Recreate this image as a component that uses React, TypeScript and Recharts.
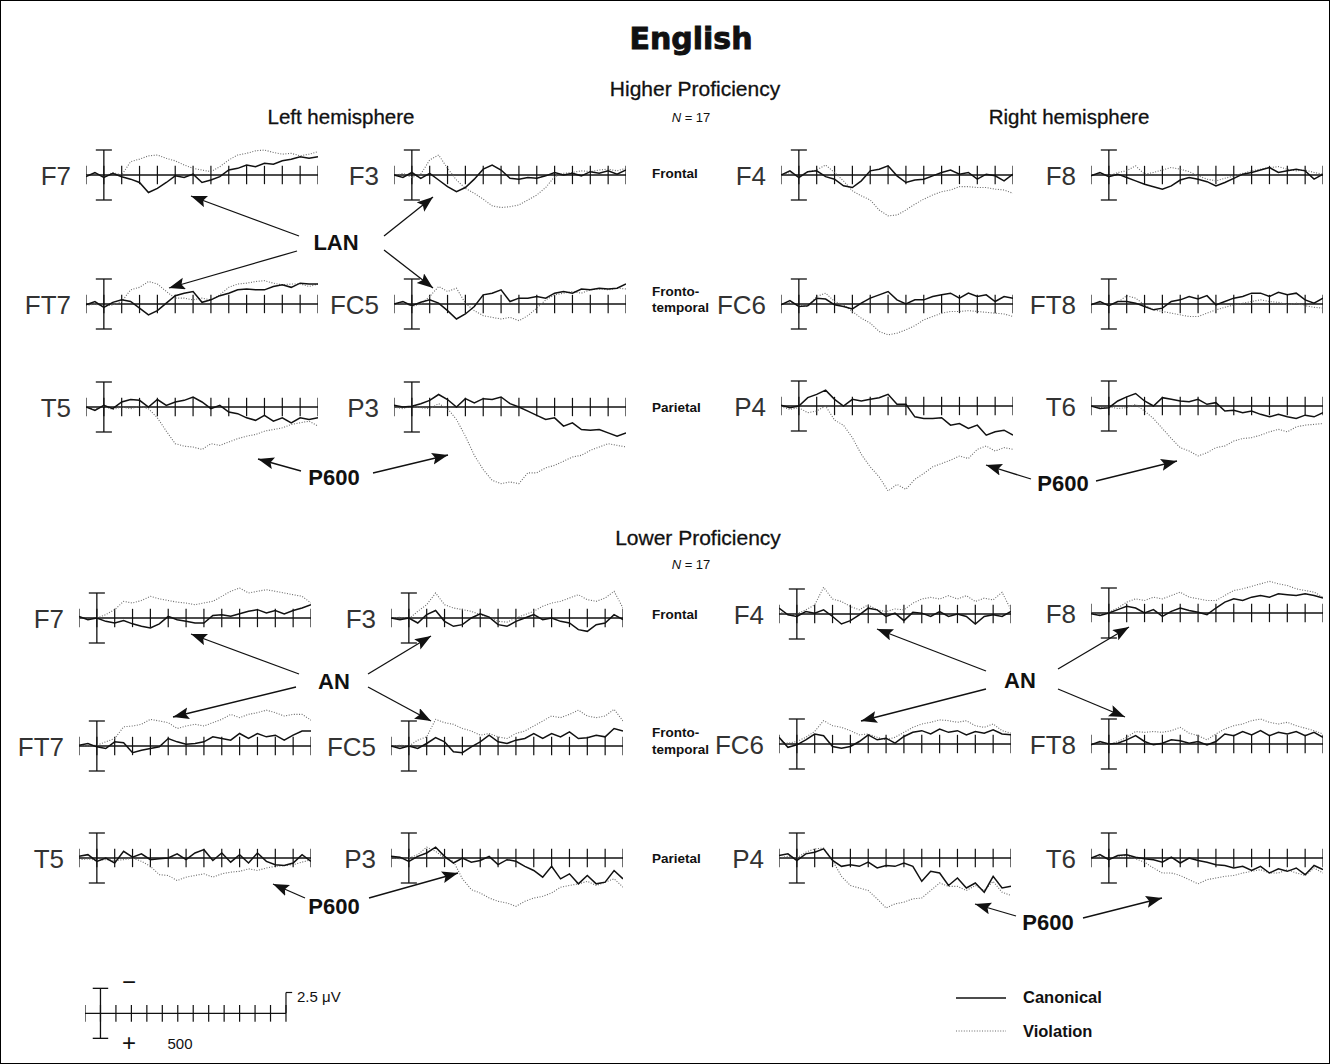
import { LineChart, Line, XAxis, YAxis, ReferenceLine } from 'recharts'

// time base, ms (one sample every 50 ms)
const TIMES = [-100, -50, 0, 50, 100, 150, 200, 250, 300, 350, 400, 450, 500, 550, 600, 650, 700, 750, 800, 850, 900, 950, 1000, 1050, 1100, 1150, 1200]
const TICKS = [-100, 0, 100, 200, 300, 400, 500, 600, 700, 800, 900, 1000, 1100, 1200]

/* ── Higher proficiency (µV, negative plotted up) ───────── */
const HI_F7_CAN = [0.2, -0.3, 0.3, -0.2, 0.2, 0.5, 0.9, 2.1, 1.6, 0.9, 0.1, 0.3, -0.1, 0.9, 0.6, 0.2, -0.6, -0.8, -1.2, -1.0, -1.4, -1.3, -1.7, -1.9, -2.2, -2.0, -2.2]
const HI_F7_VIO = [0.1, -0.2, 0.2, -0.3, 0.0, -1.6, -1.9, -2.3, -2.4, -2.0, -1.7, -1.2, -0.8, -0.6, -0.4, -1.0, -1.8, -2.4, -2.6, -2.9, -3.0, -2.7, -2.5, -2.6, -2.3, -2.5, -2.8]
const HI_F3_CAN = [0.0, 0.3, -0.3, 0.4, -0.2, 0.6, 1.4, 2.0, 1.5, 0.5, -0.7, -1.2, -0.6, 0.4, 0.5, 0.3, 0.4, 0.1, -0.3, 0.0, -0.2, 0.1, -0.4, -0.2, -0.5, -0.1, -0.6]
const HI_F3_VIO = [0.1, -0.2, 0.3, -0.1, -1.8, -2.4, -0.8, 0.6, 1.6, 2.2, 2.9, 3.7, 3.9, 3.8, 3.6, 3.0, 2.4, 1.5, 0.2, -0.2, -0.3, -0.5, -0.4, -0.6, -0.7, -0.5, -0.8]
const HI_F4_CAN = [0.0, -0.5, 0.3, -0.4, -0.5, 0.2, 0.5, 1.3, 1.5, 0.7, -0.5, -0.7, -1.1, 0.1, 0.9, 0.6, 0.5, 0.1, -0.3, -0.6, -0.1, -0.3, 0.5, -0.1, 0.1, 0.7, -0.1]
const HI_F4_VIO = [0.1, -0.3, 0.2, -0.4, -0.6, -1.2, -0.3, 0.7, 1.9, 2.5, 3.0, 4.2, 4.9, 4.8, 4.2, 3.5, 2.9, 2.4, 2.0, 1.8, 1.4, 1.4, 1.5, 1.5, 1.7, 1.8, 2.2]
const HI_F8_CAN = [0.1, -0.3, 0.2, -0.1, 0.3, 0.7, 1.1, 1.4, 1.7, 1.3, 0.6, 0.3, 0.5, 0.8, 1.3, 0.9, 0.4, -0.1, -0.3, -0.6, -0.9, -0.3, -0.5, -0.7, -0.5, 0.5, -0.1]
const HI_F8_VIO = [0.0, -0.2, 0.1, -0.3, -0.5, -1.1, -0.1, -0.3, -0.6, -0.9, -0.7, -0.4, 0.1, 0.5, 0.7, 0.4, 0.1, -0.2, -0.5, -0.7, -0.9, -1.0, -0.7, -0.5, -0.6, -0.3, -0.1]
const HI_FT7_CAN = [0.1, -0.3, 0.4, -0.2, -0.5, -0.3, 0.5, 1.3, 0.8, -0.1, -1.0, -1.3, -1.5, -0.2, -0.5, -1.0, -1.3, -1.7, -1.8, -1.7, -1.7, -2.1, -2.3, -2.0, -2.5, -2.4, -2.4]
const HI_FT7_VIO = [0.2, 0.0, 0.3, 0.1, -0.3, -1.7, -2.0, -2.7, -2.4, -1.5, -0.7, -0.7, -0.5, -0.7, -0.5, -1.1, -2.0, -2.4, -2.5, -2.7, -2.8, -2.5, -2.3, -2.4, -2.4, -2.1, -2.4]
const HI_FC5_CAN = [0.0, -0.3, 0.2, -0.2, -0.5, -0.1, 0.8, 1.8, 1.2, 0.3, -1.1, -1.3, -1.7, -0.3, -0.7, -0.7, -0.9, -0.7, -1.3, -1.5, -1.3, -1.8, -1.7, -1.9, -1.8, -1.9, -2.4]
const HI_FC5_VIO = [0.1, -0.2, 0.3, 0.0, -0.9, -2.1, -1.5, -1.9, -0.1, 0.8, 1.4, 1.6, 1.8, 1.6, 2.0, 1.4, 0.5, -0.5, -1.1, -1.3, -1.5, -1.3, -1.7, -1.8, -1.7, -1.9, -1.8]
const HI_FC6_CAN = [0.1, -0.4, 0.3, 0.2, -0.7, -0.6, 0.1, 0.3, 0.6, -0.1, -0.7, -1.1, -1.5, -0.5, 0.0, -0.5, -0.5, -0.9, -1.1, -1.3, -0.7, -1.3, -0.9, -1.1, -0.3, -0.9, -0.7]
const HI_FC6_VIO = [0.0, -0.2, 0.2, 0.3, -0.9, -1.3, -0.3, 0.1, 0.9, 1.7, 2.3, 3.3, 3.7, 3.5, 3.1, 2.6, 1.9, 1.5, 1.1, 0.9, 0.9, 0.8, 0.9, 1.0, 1.1, 1.2, 1.5]
const HI_FT8_CAN = [0.1, -0.3, 0.2, -0.3, -0.3, -0.1, 0.3, 0.7, 0.5, -0.3, -0.5, -0.9, -0.6, -1.0, 0.1, -0.3, -0.7, -0.9, -1.3, -1.3, -0.9, -1.4, -1.1, -1.3, -0.5, -0.1, -0.7]
const HI_FT8_VIO = [0.0, -0.2, 0.1, -0.2, -1.0, -0.7, 0.1, 0.7, 0.9, 1.1, 1.3, 1.5, 1.5, 1.1, 0.7, 0.4, 0.1, -0.1, -0.3, -0.5, -0.3, -0.2, 0.1, -0.1, 0.2, 0.4, 0.5]
const HI_T5_CAN = [0.0, 0.4, -0.2, 0.2, -0.6, -0.9, -0.8, 0.0, -0.9, -0.2, -0.6, -0.8, -1.2, -0.6, 0.2, -0.2, 0.6, 0.8, 1.3, 1.6, 1.0, 1.7, 1.3, 1.9, 1.3, 1.5, 1.3]
const HI_T5_VIO = [0.0, 0.3, -0.1, 0.3, 0.0, 0.2, -0.1, 0.2, 1.3, 2.9, 4.4, 4.7, 4.8, 5.1, 4.4, 4.6, 4.2, 3.8, 3.5, 3.3, 2.9, 2.7, 2.5, 2.1, 1.9, 1.7, 2.3]
const HI_P3_CAN = [-0.2, 0.0, -0.1, -0.4, -0.8, -1.5, -0.9, 0.0, -1.0, -0.5, -1.0, -0.9, -1.2, -0.4, 0.0, 0.5, 1.0, 1.5, 1.3, 2.3, 1.9, 2.7, 2.8, 2.7, 3.1, 3.5, 3.1]
const HI_P3_VIO = [0.0, 0.2, -0.1, 0.1, 0.2, -0.4, 0.2, 1.5, 3.5, 5.8, 7.5, 8.8, 9.2, 9.0, 9.2, 7.9, 7.9, 7.3, 7.0, 6.5, 6.0, 5.8, 5.2, 4.8, 4.4, 4.6, 4.8]
const HI_P4_CAN = [-0.1, 0.2, 0.0, -1.0, -1.4, -1.9, -0.8, 0.0, -0.8, -0.6, -0.8, -1.0, -1.4, -0.2, -0.2, 1.3, 1.5, 1.5, 1.4, 2.3, 2.1, 2.7, 2.3, 3.5, 3.1, 2.9, 3.5]
const HI_P4_VIO = [0.1, 0.4, 0.2, 0.8, 0.6, 0.0, 1.7, 2.3, 3.8, 5.8, 7.3, 8.5, 10.2, 9.4, 10.0, 8.8, 8.1, 7.3, 6.9, 6.5, 6.0, 6.3, 5.2, 4.8, 5.4, 5.0, 5.2]
const HI_T6_CAN = [0.0, 0.3, 0.2, -0.6, -1.1, -1.5, -0.6, 0.0, -1.0, -0.8, -0.6, -0.5, -0.8, -0.2, -0.4, 0.6, 0.5, 0.8, 0.6, 1.0, 1.3, 1.0, 1.3, 1.5, 1.1, 1.3, 0.8]
const HI_T6_VIO = [0.0, 0.2, 0.1, 0.3, 0.2, -0.2, 0.6, 1.5, 2.7, 3.9, 5.0, 5.4, 6.0, 5.6, 5.0, 4.8, 4.2, 3.9, 3.8, 3.5, 3.1, 2.8, 3.1, 2.5, 2.3, 2.2, 2.1]

/* ── Lower proficiency ───────────────────────────────────── */
const LO_F7_CAN = [-0.2, 0.2, 0.0, 0.4, 0.6, 0.3, 0.7, 1.0, 1.2, 0.7, -0.2, 0.2, 0.4, 0.6, 0.6, -0.3, -0.4, -0.2, -0.5, -0.8, -1.0, -0.6, -0.9, -0.5, -0.9, -1.2, -1.6]
const LO_F7_VIO = [0.0, 0.1, 0.0, -0.4, -1.0, -2.0, -1.8, -2.1, -2.6, -2.3, -2.1, -1.9, -1.8, -1.6, -1.8, -2.0, -2.6, -3.2, -3.6, -3.0, -3.2, -3.4, -3.2, -3.0, -2.8, -2.6, -1.8]
const LO_F3_CAN = [0.0, 0.2, 0.0, 0.6, -0.4, -0.9, 0.4, 1.0, 0.8, 0.0, -0.5, -0.1, 0.8, 1.0, 0.4, 0.0, -0.4, 0.2, 0.0, 0.4, 0.6, 1.4, 1.6, 0.8, 0.6, -0.4, 0.2]
const LO_F3_VIO = [0.0, -0.1, 0.1, -0.8, -1.6, -3.0, -1.6, -1.2, -1.0, -0.8, -0.4, -0.1, 0.4, 0.5, 0.0, -0.4, -0.8, -1.4, -1.8, -2.0, -2.4, -2.8, -2.2, -2.0, -2.4, -3.2, -1.2]
const LO_F4_CAN = [-0.7, 0.1, 0.3, -0.3, -0.1, -0.5, 0.3, 1.2, 0.8, 0.1, -0.7, -0.5, 0.3, -0.1, 0.8, -0.2, -0.1, 0.3, -0.3, 0.3, 0.0, 0.3, 1.2, 0.3, 0.1, 0.3, -0.3]
const LO_F4_VIO = [-0.3, 0.1, 0.0, -0.5, -1.1, -3.2, -1.8, -1.5, -0.9, -0.5, -1.1, -0.5, -0.3, -0.6, -0.5, -1.3, -1.8, -2.0, -1.8, -2.2, -1.8, -2.2, -1.5, -1.9, -1.7, -2.6, -0.5]
const LO_F8_CAN = [0.1, 0.3, 0.0, -0.4, -0.8, -0.6, 0.0, -0.4, 0.4, -0.2, -0.6, -0.3, -0.1, 0.2, -0.6, -1.3, -1.7, -1.5, -1.9, -2.1, -1.9, -2.3, -2.2, -2.1, -2.3, -2.1, -1.8]
const LO_F8_VIO = [0.0, 0.2, -0.1, -0.6, -1.3, -1.7, -1.5, -1.9, -1.7, -2.1, -2.5, -1.9, -1.7, -1.5, -1.5, -2.1, -2.7, -2.9, -3.2, -3.5, -3.8, -3.5, -3.3, -2.9, -2.7, -2.5, -1.9]
const LO_FT7_CAN = [-0.1, -0.3, 0.1, 0.3, -0.5, -0.4, 0.8, 0.5, 0.3, 0.1, -0.9, -0.5, -0.2, -0.3, -0.5, -1.1, -0.9, -0.7, -1.5, -0.9, -1.5, -1.1, -1.3, -0.7, -1.3, -1.8, -1.8]
const LO_FT7_VIO = [-0.1, 0.0, -0.1, -0.5, -0.9, -2.3, -2.4, -2.6, -3.2, -3.0, -2.8, -2.1, -2.4, -2.6, -2.4, -2.8, -3.2, -3.8, -3.4, -3.8, -4.0, -4.3, -4.0, -3.6, -3.8, -3.8, -3.1]
const LO_FC5_CAN = [0.0, 0.3, 0.0, 0.3, -0.3, -1.0, -0.5, 0.7, 0.8, 0.1, -0.5, -1.3, -0.5, -0.3, -0.7, -0.9, -1.5, -0.9, -1.5, -1.1, -1.7, -0.9, -1.0, -1.3, -1.1, -2.1, -1.8]
const LO_FC5_VIO = [0.0, -0.1, 0.0, -0.7, -1.1, -3.2, -2.8, -2.6, -2.1, -1.8, -1.3, -1.5, -1.1, -0.9, -1.5, -1.8, -2.4, -3.0, -3.6, -3.4, -3.8, -4.3, -3.6, -3.4, -3.6, -4.4, -3.0]
const LO_FC6_CAN = [-0.8, 0.4, 0.1, -0.5, -1.2, -1.0, 0.3, 0.5, 0.3, -0.3, -1.1, -0.5, -0.7, -0.1, -0.9, -1.4, -1.6, -1.2, -1.8, -1.4, -1.6, -1.1, -1.5, -1.3, -1.7, -1.2, -1.1]
const LO_FC6_VIO = [-0.3, -0.1, -0.3, -0.8, -1.5, -2.8, -2.2, -2.0, -1.6, -1.1, -1.2, -0.8, -0.5, -0.8, -1.4, -2.0, -2.4, -2.6, -2.9, -2.8, -2.6, -2.8, -2.2, -2.0, -2.4, -1.6, -1.3]
const LO_FT8_CAN = [0.1, -0.3, 0.0, -0.1, -0.5, -1.0, -0.3, 0.1, -0.1, -0.5, -0.4, -0.1, -0.3, 0.1, -0.3, -1.2, -1.0, -1.5, -1.1, -1.6, -1.0, -1.4, -1.2, -1.5, -1.0, -1.4, -0.8]
const LO_FT8_VIO = [0.0, -0.2, 0.1, -0.3, -0.8, -1.5, -1.4, -1.5, -1.4, -1.6, -2.0, -1.3, -1.0, -0.5, -1.2, -1.8, -2.2, -2.4, -2.8, -3.0, -2.6, -2.4, -2.6, -2.2, -1.9, -1.6, -1.2]
const LO_T5_CAN = [-0.2, -0.4, 0.4, 0.0, 0.6, -0.8, -0.1, -0.5, 0.2, 0.1, 0.0, -0.5, 0.2, -0.6, -1.0, 0.3, -0.6, 0.5, -0.4, 0.6, -0.6, 0.4, 0.8, 0.9, 0.6, -0.4, 0.4]
const LO_T5_VIO = [0.2, 0.1, 0.3, 0.2, 0.3, 0.2, 0.0, 0.4, 1.0, 2.0, 2.1, 2.7, 2.3, 2.1, 1.9, 2.3, 1.9, 1.7, 1.6, 1.3, 1.5, 1.2, 1.0, 0.9, 0.8, 0.5, 0.2]
const LO_P3_CAN = [-0.2, -0.1, 0.4, -0.2, -0.6, -1.3, -0.2, 0.6, 0.0, 0.5, 0.3, -0.2, 0.8, 0.2, 0.4, 1.0, 1.5, 2.3, 1.0, 2.5, 1.9, 3.1, 2.1, 3.1, 2.9, 1.5, 2.5]
const LO_P3_VIO = [0.0, 0.1, 0.0, -0.4, -1.3, -0.8, 0.0, 0.4, 2.5, 3.8, 4.2, 4.8, 5.2, 5.4, 5.8, 5.2, 4.8, 4.6, 4.2, 3.5, 3.3, 3.1, 2.8, 3.3, 2.9, 2.5, 3.5]
const LO_P4_CAN = [-0.3, -0.5, 0.3, -0.5, -0.7, -1.1, 0.3, 1.0, 0.8, 1.0, 0.5, 1.2, 0.9, 1.0, 0.6, 1.0, 2.8, 1.6, 1.8, 3.3, 2.4, 3.6, 3.0, 4.1, 2.2, 3.6, 3.4]
const LO_P4_VIO = [0.0, -0.2, 0.0, -0.7, -1.1, -1.2, 0.3, 2.2, 3.3, 3.6, 3.9, 4.9, 6.0, 5.5, 5.3, 4.9, 4.8, 3.9, 3.0, 3.4, 3.4, 3.9, 3.3, 3.9, 2.8, 4.1, 4.5]
const LO_T6_CAN = [0.0, -0.4, 0.2, -0.3, -0.4, -0.1, 0.1, 0.2, 0.5, -0.1, 0.6, 0.0, 0.3, 0.5, 0.8, 0.9, 1.2, 1.0, 1.5, 1.0, 1.8, 1.3, 1.6, 1.2, 2.0, 0.9, 1.4]
const LO_T6_VIO = [0.0, -0.2, 0.1, -0.2, -0.3, 0.1, 0.5, 1.2, 1.8, 1.8, 2.1, 2.6, 3.1, 2.6, 2.4, 2.2, 2.1, 1.8, 1.6, 1.4, 1.8, 1.8, 1.4, 1.8, 2.1, 1.2, 1.8]

/* ── geometry ───────────────────────────────────────────── */
const UV_MIN = -6
const UV_MAX = 12
const PX_PER_UV = 25 / 3
const PANEL_W = 232
const PANEL_H = (UV_MAX - UV_MIN) * PX_PER_UV
const INK = '#111'
const FONT = '"Liberation Sans", Arial, sans-serif'

type Panel = { label: string; x: number; y: number; can: number[]; vio: number[] }

const PANELS: Panel[] = [
  { label: 'F7', x: 85, y: 174, can: HI_F7_CAN, vio: HI_F7_VIO },
  { label: 'F3', x: 393, y: 174, can: HI_F3_CAN, vio: HI_F3_VIO },
  { label: 'F4', x: 780, y: 174, can: HI_F4_CAN, vio: HI_F4_VIO },
  { label: 'F8', x: 1090, y: 174, can: HI_F8_CAN, vio: HI_F8_VIO },
  { label: 'FT7', x: 85, y: 303, can: HI_FT7_CAN, vio: HI_FT7_VIO },
  { label: 'FC5', x: 393, y: 303, can: HI_FC5_CAN, vio: HI_FC5_VIO },
  { label: 'FC6', x: 780, y: 303, can: HI_FC6_CAN, vio: HI_FC6_VIO },
  { label: 'FT8', x: 1090, y: 303, can: HI_FT8_CAN, vio: HI_FT8_VIO },
  { label: 'T5', x: 85, y: 406, can: HI_T5_CAN, vio: HI_T5_VIO },
  { label: 'P3', x: 393, y: 406, can: HI_P3_CAN, vio: HI_P3_VIO },
  { label: 'P4', x: 780, y: 405, can: HI_P4_CAN, vio: HI_P4_VIO },
  { label: 'T6', x: 1090, y: 405, can: HI_T6_CAN, vio: HI_T6_VIO },
  { label: 'F7', x: 78, y: 617, can: LO_F7_CAN, vio: LO_F7_VIO },
  { label: 'F3', x: 390, y: 617, can: LO_F3_CAN, vio: LO_F3_VIO },
  { label: 'F4', x: 778, y: 613, can: LO_F4_CAN, vio: LO_F4_VIO },
  { label: 'F8', x: 1090, y: 612, can: LO_F8_CAN, vio: LO_F8_VIO },
  { label: 'FT7', x: 78, y: 745, can: LO_FT7_CAN, vio: LO_FT7_VIO },
  { label: 'FC5', x: 390, y: 745, can: LO_FC5_CAN, vio: LO_FC5_VIO },
  { label: 'FC6', x: 778, y: 743, can: LO_FC6_CAN, vio: LO_FC6_VIO },
  { label: 'FT8', x: 1090, y: 743, can: LO_FT8_CAN, vio: LO_FT8_VIO },
  { label: 'T5', x: 78, y: 857, can: LO_T5_CAN, vio: LO_T5_VIO },
  { label: 'P3', x: 390, y: 857, can: LO_P3_CAN, vio: LO_P3_VIO },
  { label: 'P4', x: 778, y: 857, can: LO_P4_CAN, vio: LO_P4_VIO },
  { label: 'T6', x: 1090, y: 857, can: LO_T6_CAN, vio: LO_T6_VIO },
]

// baseline, time ticks and the capped amplitude bar at t = 0
function axisMarks(tickUv: number, barUv: number, capMs: number) {
  const marks = [<ReferenceLine key="base" y={0} stroke={INK} strokeWidth={1.3} />]
  TICKS.forEach((t) =>
    marks.push(
      <ReferenceLine key={'t' + t} segment={[{ x: t, y: -tickUv }, { x: t, y: tickUv }]} stroke={INK} strokeWidth={1.2} />
    )
  )
  marks.push(<ReferenceLine key="bar" segment={[{ x: 0, y: -barUv }, { x: 0, y: barUv }]} stroke={INK} strokeWidth={1.3} />)
  marks.push(<ReferenceLine key="capT" segment={[{ x: -capMs, y: -barUv }, { x: capMs, y: -barUv }]} stroke={INK} strokeWidth={1.3} />)
  marks.push(<ReferenceLine key="capB" segment={[{ x: -capMs, y: barUv }, { x: capMs, y: barUv }]} stroke={INK} strokeWidth={1.3} />)
  return marks
}

function ErpPanel({ p }: { p: Panel }) {
  const data = TIMES.map((t, i) => ({ t, can: p.can[i], vio: p.vio[i] }))
  return (
    <div style={{ position: 'absolute', left: p.x, top: p.y + UV_MIN * PX_PER_UV }}>
      <LineChart width={PANEL_W} height={PANEL_H} data={data} margin={{ top: 0, right: 0, bottom: 0, left: 0 }}>
        <XAxis type="number" dataKey="t" domain={[-100, 1200]} hide allowDataOverflow />
        <YAxis type="number" domain={[UV_MIN, UV_MAX]} reversed hide allowDataOverflow />
        {axisMarks(1.1, 3, 45)}
        <Line type="linear" dataKey="vio" stroke="#6a6a6a" strokeWidth={1.1} strokeDasharray="1 1.6" dot={false} isAnimationActive={false} />
        <Line type="linear" dataKey="can" stroke={INK} strokeWidth={1.5} dot={false} isAnimationActive={false} />
      </LineChart>
    </div>
  )
}

/* ── scale bar (bottom left) ────────────────────────────── */
const SCALE_PX_PER_MS = 201 / 1300
const SCALE_W = 1350 * SCALE_PX_PER_MS
const SCALE_H = 8 * PX_PER_UV

function ScaleBar() {
  const data = TIMES.map((t) => ({ t }))
  return (
    <div style={{ position: 'absolute', left: 84, top: 1012 - SCALE_H / 2 }}>
      <LineChart width={SCALE_W} height={SCALE_H} data={data} margin={{ top: 0, right: 0, bottom: 0, left: 0 }}>
        <XAxis type="number" dataKey="t" domain={[-100, 1250]} hide allowDataOverflow />
        <YAxis type="number" domain={[-4, 4]} reversed hide allowDataOverflow />
        <ReferenceLine segment={[{ x: -100, y: 0 }, { x: 1200, y: 0 }]} stroke={INK} strokeWidth={1.3} />
        {TICKS.map((t) => (
          <ReferenceLine key={t} segment={[{ x: t, y: -1 }, { x: t, y: 1 }]} stroke={INK} strokeWidth={1.2} />
        ))}
        <ReferenceLine segment={[{ x: 0, y: -3 }, { x: 0, y: 3 }]} stroke={INK} strokeWidth={1.3} />
        <ReferenceLine segment={[{ x: -50, y: -3 }, { x: 50, y: -3 }]} stroke={INK} strokeWidth={1.3} />
        <ReferenceLine segment={[{ x: -50, y: 3 }, { x: 50, y: 3 }]} stroke={INK} strokeWidth={1.3} />
        <ReferenceLine segment={[{ x: 1200, y: 0 }, { x: 1200, y: -2.5 }]} stroke={INK} strokeWidth={1.2} />
        <ReferenceLine segment={[{ x: 1200, y: -2.5 }, { x: 1240, y: -2.5 }]} stroke={INK} strokeWidth={1.2} />
      </LineChart>
    </div>
  )
}

/* ── annotations ────────────────────────────────────────── */
type Arrow = [number, number, number, number]
const ARROWS: Arrow[] = [
  [298, 235, 190, 195], [383, 235, 432, 196], [296, 250, 168, 287], [383, 249, 432, 287],
  [300, 470, 257, 458], [372, 472, 447, 454],
  [1030, 478, 985, 464], [1095, 480, 1176, 460],
  [298, 673, 190, 633], [367, 673, 430, 635], [295, 686, 172, 716], [367, 686, 430, 720],
  [985, 670, 876, 628], [1057, 668, 1128, 626], [985, 688, 860, 720], [1057, 688, 1124, 716],
  [304, 897, 272, 883], [368, 897, 457, 872],
  [1015, 915, 974, 903], [1082, 917, 1161, 897],
]

const CALLOUTS: [string, number, number][] = [
  ['LAN', 335, 249], ['P600', 333, 484], ['P600', 1062, 490],
  ['AN', 333, 688], ['AN', 1019, 687], ['P600', 333, 913], ['P600', 1047, 929],
]

function Overlay() {
  const region = { fontFamily: FONT, fontWeight: 700, fontSize: 13.5, fill: INK }
  return (
    <svg width={1330} height={1064} style={{ position: 'absolute', left: 0, top: 0, pointerEvents: 'none' }}>
      <defs>
        <marker id="head" markerUnits="userSpaceOnUse" markerWidth={17} markerHeight={13} refX={16} refY={6} orient="auto">
          <path d="M0,0 L16,6 L0,12 L3,6 z" fill={INK} />
        </marker>
      </defs>

      <text x={690} y={48} textAnchor="middle" stroke={INK} strokeWidth={0.9} style={{ fontFamily: '"DejaVu Sans", sans-serif', fontWeight: 900, fontSize: 30, fill: INK }}>English</text>
      <text x={694} y={95} textAnchor="middle" stroke={INK} strokeWidth={0.3} style={{ fontFamily: FONT, fontSize: 21, fill: INK }}>Higher Proficiency</text>
      <text x={690} y={121} textAnchor="middle" style={{ fontFamily: FONT, fontSize: 13, fill: INK }}>
        <tspan fontStyle="italic">N</tspan> = 17
      </text>
      <text x={340} y={123} textAnchor="middle" stroke={INK} strokeWidth={0.3} style={{ fontFamily: FONT, fontSize: 20.5, fill: INK }}>Left hemisphere</text>
      <text x={1068} y={123} textAnchor="middle" stroke={INK} strokeWidth={0.3} style={{ fontFamily: FONT, fontSize: 20.5, fill: INK }}>Right hemisphere</text>
      <text x={697} y={544} textAnchor="middle" stroke={INK} strokeWidth={0.3} style={{ fontFamily: FONT, fontSize: 21, fill: INK }}>Lower Proficiency</text>
      <text x={690} y={568} textAnchor="middle" style={{ fontFamily: FONT, fontSize: 13, fill: INK }}>
        <tspan fontStyle="italic">N</tspan> = 17
      </text>

      <text x={651} y={177} style={region}>Frontal</text>
      <text x={651} y={295} style={region}>Fronto-</text>
      <text x={651} y={311} style={region}>temporal</text>
      <text x={651} y={411} style={region}>Parietal</text>
      <text x={651} y={618} style={region}>Frontal</text>
      <text x={651} y={736} style={region}>Fronto-</text>
      <text x={651} y={753} style={region}>temporal</text>
      <text x={651} y={862} style={region}>Parietal</text>

      {PANELS.map((p, i) => (
        <text key={i} x={p.x - 15} y={p.y + 9.5} textAnchor="end" style={{ fontFamily: FONT, fontSize: 26, fill: '#333' }}>
          {p.label}
        </text>
      ))}

      {ARROWS.map(([x1, y1, x2, y2], i) => (
        <line key={i} x1={x1} y1={y1} x2={x2} y2={y2} stroke={INK} strokeWidth={1.3} markerEnd="url(#head)" />
      ))}
      {CALLOUTS.map(([t, x, y], i) => (
        <text key={i} x={x} y={y} textAnchor="middle" style={{ fontFamily: FONT, fontWeight: 700, fontSize: 22, fill: INK }}>{t}</text>
      ))}

      {/* scale bar labels */}
      <text x={128} y={989} textAnchor="middle" style={{ fontFamily: FONT, fontSize: 24, fill: INK }}>−</text>
      <text x={128} y={1050} textAnchor="middle" style={{ fontFamily: FONT, fontSize: 24, fill: INK }}>+</text>
      <text x={179} y={1048} textAnchor="middle" style={{ fontFamily: FONT, fontSize: 15, fill: INK }}>500</text>
      <text x={296} y={1001} style={{ fontFamily: FONT, fontSize: 15, fill: INK }}>2.5 μV</text>

      {/* legend */}
      <line x1={955} y1={997} x2={1005} y2={997} stroke={INK} strokeWidth={1.5} />
      <text x={1022} y={1002} style={{ fontFamily: FONT, fontWeight: 700, fontSize: 16.5, fill: INK }}>Canonical</text>
      <line x1={955} y1={1030} x2={1005} y2={1030} stroke="#6a6a6a" strokeWidth={1.1} strokeDasharray="1 1.6" />
      <text x={1022} y={1036} style={{ fontFamily: FONT, fontWeight: 700, fontSize: 16.5, fill: INK }}>Violation</text>
    </svg>
  )
}

export default function App() {
  return (
    <div style={{ position: 'relative', width: 1330, height: 1064, background: '#fff', boxSizing: 'border-box', border: '1px solid #000', overflow: 'hidden' }}>
      <style>{'body{margin:0}'}</style>
      {PANELS.map((p, i) => (
        <ErpPanel key={i} p={p} />
      ))}
      <ScaleBar />
      <Overlay />
    </div>
  )
}
